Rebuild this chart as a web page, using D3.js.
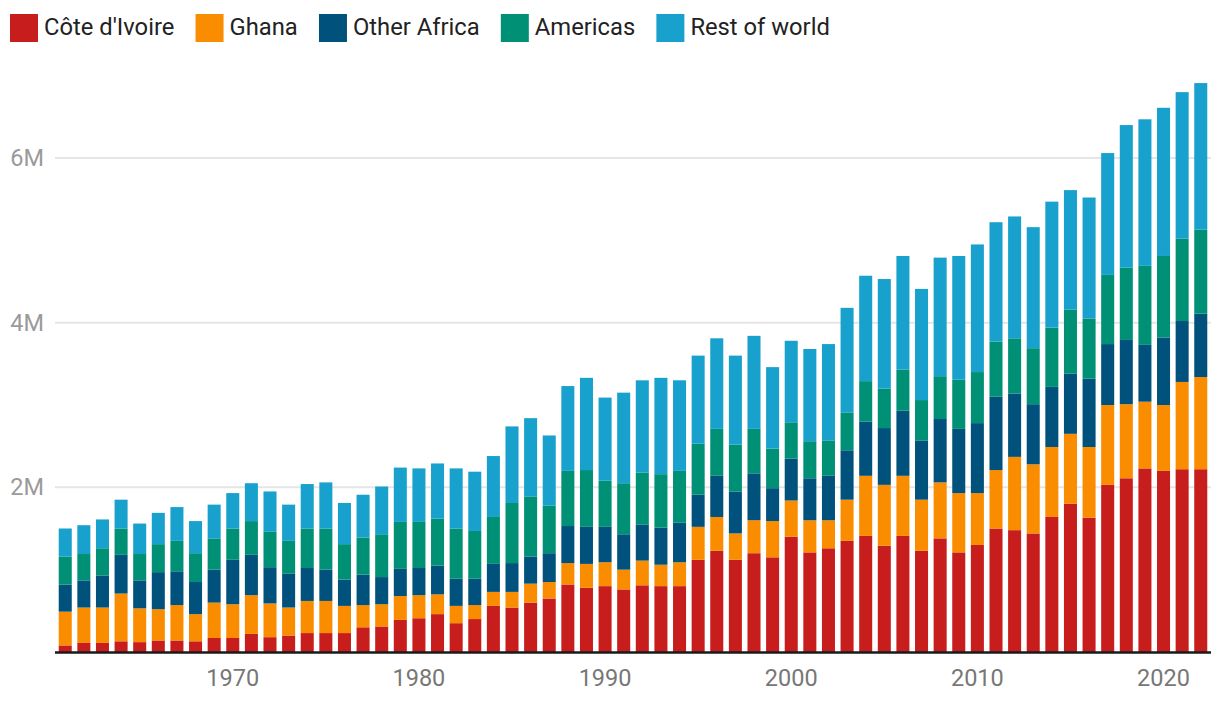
<!DOCTYPE html>
<html>
<head>
<meta charset="utf-8">
<script src="https://cdn.jsdelivr.net/npm/d3@7/dist/d3.min.js"></script>
<style>
  html, body { margin: 0; padding: 0; background: #fff; }
  svg { display: block; font-family: Roboto, "Noto Sans", sans-serif; }
</style>
</head>
<body>
<svg id="chart" width="1220" height="710"></svg>
<script>
// ---- Data (millions of tonnes) ----
const years = d3.range(1961, 2023);
const seriesNames = ["Côte d'Ivoire", "Ghana", "Other Africa", "Americas", "Rest of world"];
const seriesColors = ["#c71e1d", "#fa8c00", "#00527c", "#009076", "#18a1cd"];

const coteDIvoire = [0.08,0.11,0.11,0.13,0.12,0.14,0.14,0.13,0.17,0.17,0.22,0.18,0.20,0.23,0.23,0.23,0.30,0.31,0.39,0.41,0.46,0.35,0.40,0.56,0.54,0.60,0.65,0.82,0.78,0.80,0.76,0.81,0.80,0.80,1.12,1.23,1.12,1.20,1.15,1.40,1.21,1.26,1.35,1.41,1.29,1.41,1.23,1.38,1.21,1.30,1.50,1.48,1.44,1.64,1.80,1.63,2.03,2.11,2.23,2.20,2.22,2.22];
const ghana = [0.41,0.43,0.43,0.58,0.41,0.38,0.43,0.33,0.43,0.41,0.47,0.41,0.34,0.39,0.39,0.33,0.27,0.27,0.29,0.28,0.24,0.21,0.17,0.17,0.19,0.23,0.20,0.26,0.29,0.29,0.24,0.30,0.26,0.29,0.40,0.41,0.32,0.40,0.44,0.44,0.39,0.34,0.50,0.73,0.74,0.73,0.62,0.68,0.72,0.63,0.71,0.89,0.84,0.85,0.85,0.86,0.97,0.90,0.81,0.80,1.06,1.12];
const otherAfrica = [0.33,0.33,0.39,0.47,0.34,0.45,0.41,0.39,0.40,0.54,0.49,0.44,0.41,0.40,0.38,0.32,0.37,0.33,0.33,0.33,0.35,0.33,0.32,0.34,0.35,0.33,0.35,0.45,0.45,0.43,0.43,0.44,0.45,0.48,0.39,0.50,0.51,0.57,0.40,0.51,0.51,0.54,0.60,0.66,0.69,0.79,0.72,0.77,0.78,0.85,0.89,0.77,0.73,0.73,0.73,0.83,0.74,0.78,0.69,0.82,0.74,0.77];
const americas = [0.34,0.32,0.33,0.32,0.32,0.34,0.37,0.35,0.38,0.38,0.41,0.43,0.40,0.48,0.50,0.43,0.45,0.52,0.57,0.56,0.57,0.61,0.58,0.57,0.73,0.73,0.58,0.67,0.69,0.56,0.62,0.63,0.65,0.63,0.62,0.57,0.57,0.54,0.48,0.44,0.45,0.43,0.46,0.49,0.48,0.50,0.49,0.52,0.60,0.62,0.67,0.67,0.68,0.72,0.78,0.73,0.84,0.88,0.96,0.99,1.00,1.02];
const restOfWorld = [0.34,0.35,0.35,0.35,0.37,0.38,0.41,0.39,0.41,0.43,0.46,0.49,0.44,0.54,0.56,0.50,0.52,0.58,0.66,0.65,0.67,0.73,0.72,0.74,0.93,0.95,0.85,1.03,1.12,1.01,1.10,1.12,1.17,1.10,1.07,1.10,1.08,1.13,0.99,0.99,1.12,1.17,1.27,1.28,1.33,1.38,1.35,1.44,1.50,1.55,1.45,1.48,1.47,1.53,1.45,1.47,1.48,1.73,1.78,1.80,1.78,1.78];

const yTicks = [2, 4, 6];
const xTickYears = [1970, 1980, 1990, 2000, 2010, 2020];

// ---- Build table ----
const seriesArrays = [coteDIvoire, ghana, otherAfrica, americas, restOfWorld];
const table = years.map((yr, i) => {
  const row = { year: yr };
  seriesNames.forEach((n, k) => row[n] = seriesArrays[k][i]);
  return row;
});
const stacked = d3.stack().keys(seriesNames)(table);

// ---- Layout ----
const FS = 23.5;
const svg = d3.select("#chart");
const x = d3.scaleBand().domain(years).range([55, 1211]).paddingInner(0.3).paddingOuter(0.2);
const y = d3.scaleLinear().domain([0, 6]).range([652, 158]);

// gridlines
svg.append("g").selectAll("line").data(yTicks).join("line")
  .attr("x1", 55).attr("x2", 1211)
  .attr("y1", d => y(d)).attr("y2", d => y(d))
  .attr("stroke", "#e5e5e5").attr("stroke-width", 2);

// y labels
svg.append("g").selectAll("text").data(yTicks).join("text")
  .attr("x", 44).attr("y", d => y(d))
  .attr("text-anchor", "end").attr("dominant-baseline", "central")
  .attr("fill", "#9a9a9a").attr("font-size", FS)
  .text(d => d + "M");

// bars
svg.append("g").selectAll("g").data(stacked).join("g")
  .attr("fill", (d, i) => seriesColors[i])
  .selectAll("rect").data(d => d).join("rect")
  .attr("x", d => x(d.data.year))
  .attr("width", x.bandwidth())
  .attr("y", d => y(d[1]))
  .attr("height", d => y(d[0]) - y(d[1]));

// baseline
svg.append("line")
  .attr("x1", 55).attr("x2", 1211).attr("y1", 652.5).attr("y2", 652.5)
  .attr("stroke", "#1a1a1a").attr("stroke-width", 2.5);

// x labels
svg.append("g").selectAll("text").data(xTickYears).join("text")
  .attr("x", d => x(d) + x.bandwidth() / 2).attr("y", 686)
  .attr("text-anchor", "middle")
  .attr("fill", "#777").attr("font-size", FS)
  .text(d => d);

// legend
const legend = svg.append("g");
let lx = 10;
seriesNames.forEach((n, i) => {
  const g = legend.append("g").attr("transform", `translate(${lx},0)`);
  g.append("rect").attr("x", 0).attr("y", 14).attr("width", 28).attr("height", 28).attr("fill", seriesColors[i]);
  const t = g.append("text").attr("x", 34).attr("y", 27).attr("dominant-baseline", "central")
    .attr("fill", "#222").attr("font-size", 23.75).text(n);
  lx += 34 + t.node().getComputedTextLength() + 21.2;
});
</script>
</body>
</html>
